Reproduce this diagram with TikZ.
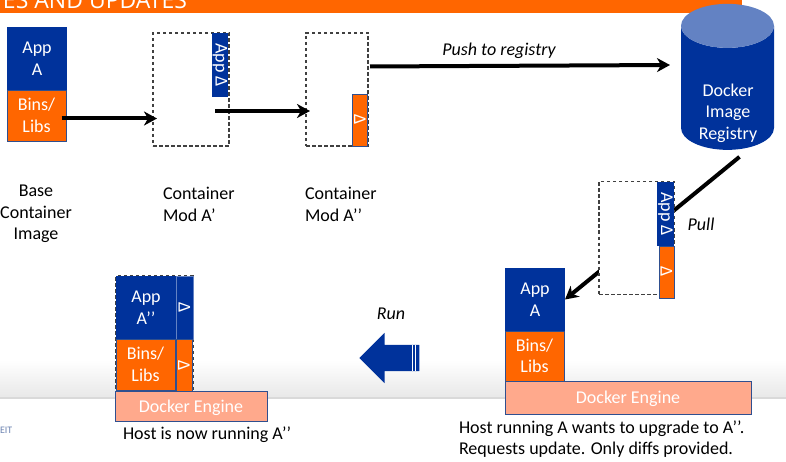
\documentclass[tikz,border=0pt]{standalone}
\usepackage{fontspec}
\setmainfont{Carlito}
\newfontfamily\bannerfont{Open Sans}
\usetikzlibrary{positioning,arrows.meta,shapes.geometric,shapes.arrows}
\definecolor{appblue}{HTML}{00329B}
\definecolor{libsorange}{HTML}{FF6600}
\definecolor{edgeblue}{HTML}{2F4F8F}
\definecolor{engine}{HTML}{FFA98C}
\definecolor{regtop}{HTML}{6382C3}
\begin{document}
\begin{tikzpicture}[x=1pt,y=-1pt,
   every node/.style={inner sep=0pt,outer sep=0pt,font=\fontsize{18}{21.5}\selectfont},
   appbox/.style={fill=appblue,text=white,align=center,minimum width=60pt,minimum height=63pt},
   libsbox/.style={fill=libsorange,draw=edgeblue,line width=0.8pt,text=white,align=center,minimum width=59pt,minimum height=51pt},
   diffapp/.style={fill=appblue,text=white,rotate=-90,minimum height=16.5pt},
   difflibs/.style={fill=libsorange,draw=edgeblue,line width=0.8pt,text=white,rotate=-90,minimum height=15pt,minimum width=52pt},
   modbox/.style={draw=black!75,dash pattern=on 3.5pt off 2.5pt,fill=white,line width=1.1pt,minimum height=113pt},
   enginebox/.style={fill=engine,draw=edgeblue,line width=0.9pt,text=white,text height=12pt,text depth=0pt},
   caption/.style={align=left,anchor=north west},
   slanted/.style={font=\fontsize{18}{21.5}\selectfont\itshape},
   fatline/.style={line width=4pt,-{Stealth[length=13pt,width=14pt,inset=4pt]}}]
\useasboundingbox (0,0) rectangle (786,462);
% slide background
\shade[top color=white,bottom color=black!9] (0,360) rectangle (786,397);
\fill[black!15] (0,397) rectangle (786,398.5);
\fill[libsorange] (0,0) rectangle (742,13);
\node[anchor=base east,text=white] (banner) at (187,9)
   {\bannerfont\fontsize{23}{23}\selectfont ES AND UPDATES};
\node[anchor=west,text=edgeblue!70] (footer) at (0,430.5) {\fontsize{10}{10}\selectfont EIT};

% base image
\node[appbox] (appa) at (37,58.5) {App\\A};
\node[libsbox,below=0pt of appa,xshift=-0.5pt] (libsa) {Bins/\\Libs};
\node[align=center,anchor=north] (basetxt) at (36,185) {Base\\Container\\Image};

% first mod
\node[modbox,minimum width=76pt] (moda) at (191,89.5) {};
\node[diffapp,minimum width=64pt] (dappa) at (220,65) {App Δ};
\node[caption] (modatxt) at (163,187.5) {Container\\Mod A’};

% second mod
\node[modbox,minimum width=62pt] (modb) at (337,89.5) {};
\node[difflibs] (dlibsb) at (360,120) {Δ};
\node[caption] (modbtxt) at (305,187.5) {Container\\Mod A’’};

% registry
\node[cylinder,shape border rotate=90,shape aspect=1.1,inner sep=20pt,cylinder uses custom fill,
   cylinder body fill=appblue,cylinder end fill=regtop,minimum width=93pt,minimum height=146pt] (registry) at (727.5,97) {};
\node[align=center,text=white] (regtxt) at (728,113) {Docker\\Image\\Registry};

% host running A
\node[appbox] (appc) at (535,299.5) {App\\A};
\node[libsbox,below=0pt of appc,xshift=-0.5pt,minimum height=50pt] (libsc) {Bins/\\Libs};
\node[enginebox,minimum width=246pt,minimum height=33pt] (enginec) at (628,397.5) {Docker Engine};
\draw[fatline] ([xshift=12pt,yshift=-7pt]registry.south) -- (appc.east);
\node[modbox,minimum width=75pt] (modc) at (636.5,238) {};
\node[diffapp,minimum width=64pt] (dappc) at (665.5,214) {App Δ};
\node[difflibs] (dlibsc) at (666.5,272) {Δ};
\node[caption] (hostc) at (459,420.5) {Host running A wants to upgrade to A’’.\\Requests update. Only diffs provided.};

% host running A''
\node[modbox,minimum width=77pt,minimum height=115pt] (modd) at (154.5,333.5) {};
\node[appbox] (appd) at (146,307.5) {App\\A’’};
\node[libsbox,below=0pt of appd,xshift=-0.5pt] (libsd) {Bins/\\Libs};
\node[fill=appblue,draw=regtop,line width=0.5pt,text=white,rotate=-90,minimum width=63pt,minimum height=17pt] (dappd) at (184.5,307.5) {Δ};
\node[difflibs,minimum height=16pt] (dlibsd) at (184,365.5) {Δ};
\node[enginebox,minimum width=152pt,minimum height=30pt] (engined) at (191,406) {Docker Engine};
\node[caption] (hostd) at (123,427) {Host is now running A’’};

% arrows
\draw[fatline] ([xshift=-4.5pt,yshift=-3pt]libsa.east) -- ([xshift=4pt,yshift=-29pt]moda.west);
\draw[fatline] ([xshift=-14pt,yshift=-21.5pt]moda.east) -- ([xshift=4pt,yshift=-21.5pt]modb.west);
\draw[fatline] ([xshift=2pt,yshift=23pt]modb.east) -- ([xshift=-11pt,yshift=32pt]registry.west);
\node[slanted] (pushtxt) at (499,51) {Push to registry};
\node[slanted] (pulltxt) at (701,224) {Pull};

% run
\node[single arrow,shape border rotate=180,fill=appblue,inner sep=13pt,minimum height=60pt,minimum width=50pt,
   single arrow head extend=12pt,single arrow tip angle=90] (runarrow) at (396,358) {};
\draw[white,line width=0.6pt] ([xshift=-7pt,yshift=13pt]runarrow.east) -- ([xshift=-7pt,yshift=-13pt]runarrow.east);
\draw[white,line width=0.6pt] ([xshift=-4pt,yshift=13pt]runarrow.east) -- ([xshift=-4pt,yshift=-13pt]runarrow.east);
\node[slanted] (runtxt) at (391,314) {Run};
\end{tikzpicture}
\end{document}
